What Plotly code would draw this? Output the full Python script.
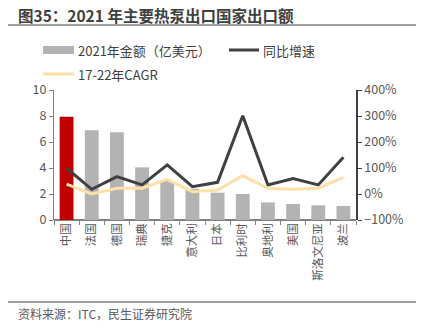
import plotly.graph_objects as go

categories = ["中国", "法国", "德国", "瑞典", "捷克", "意大利", "日本", "比利时", "奥地利", "美国", "斯洛文尼亚", "波兰"]
amount = [7.95, 6.9, 6.75, 4.05, 3.0, 2.4, 2.1, 2.0, 1.35, 1.23, 1.13, 1.08]
yoy = [99, 18, 67, 35, 112, 28, 45, 301, 35, 59, 35, 141]
cagr = [38, 0, 22, 22, 56, 9, 15, 70, 22, 18, 22, 64]

W, H = 426, 333
L, R, T, B = 54, 70, 90, 113
PW, PH = W - L - R, H - T - B

def px(x):
    return (x - L) / PW

def py(y):
    return (H - B - y) / PH

FONT = "Noto Sans CJK SC"
bar_colors = ["#C00000"] + ["#B3B3B3"] * (len(categories) - 1)

fig = go.Figure()
fig.add_trace(go.Bar(x=categories, y=amount, marker_color=bar_colors, marker_line_width=0,
                     name="2021年金额（亿美元）", showlegend=False))
fig.add_trace(go.Scatter(x=categories, y=yoy, yaxis="y2", mode="lines",
                         line=dict(color="#404040", width=3), name="同比增速", showlegend=False))
fig.add_trace(go.Scatter(x=categories, y=cagr, yaxis="y2", mode="lines",
                         line=dict(color="#FFE0A6", width=3), name="17-22年CAGR", showlegend=False))

tickfont = dict(family=FONT, size=11.5, color="#595959")
fig.update_layout(
    width=W, height=H, margin=dict(l=L, r=R, t=T, b=B),
    paper_bgcolor="white", plot_bgcolor="white",
    bargap=0.45,
    xaxis=dict(tickangle=-90, tickfont=tickfont, showline=False, ticks="outside",
               tickson="boundaries", ticklen=4, tickcolor="#808080", showgrid=False),
    yaxis=dict(range=[0, 10], dtick=2, tickfont=dict(family=FONT, size=12.5, color="#595959"),
               showline=True, linecolor="#808080", linewidth=1, ticks="outside", ticklen=4,
               tickcolor="#808080", showgrid=False, zeroline=True, zerolinecolor="#808080"),
    yaxis2=dict(range=[-100, 400], dtick=100, ticksuffix="%", overlaying="y", side="right",
                tickfont=dict(family=FONT, size=12.5, color="#595959"),
                showline=True, linecolor="#404040", linewidth=1.5, ticks="outside", ticklen=4,
                tickcolor="#404040", showgrid=False, zeroline=False),
    showlegend=False,
)

shapes = []
annotations = []
# title
annotations.append(dict(text="<b>图35：2021 年主要热泵出口国家出口额</b>", xref="paper", yref="paper",
                        x=px(16), y=py(15), xanchor="left", yanchor="middle", showarrow=False,
                        font=dict(family=FONT, size=15.5, color="#404040")))
shapes.append(dict(type="line", xref="paper", yref="paper", x0=px(8), x1=px(416), y0=py(25), y1=py(25),
                   line=dict(color="#404040", width=1.2)))
# legend
LF = dict(family=FONT, size=13, color="#404040")
shapes.append(dict(type="rect", xref="paper", yref="paper", x0=px(43), x1=px(74), y0=py(46), y1=py(54),
                   fillcolor="#B3B3B3", line=dict(width=0)))
annotations.append(dict(text="2021年金额（亿美元）", xref="paper", yref="paper", x=px(76), y=py(50),
                        xanchor="left", yanchor="middle", showarrow=False, font=LF))
shapes.append(dict(type="line", xref="paper", yref="paper", x0=px(229), x1=px(259), y0=py(50), y1=py(50),
                   line=dict(color="#404040", width=3)))
annotations.append(dict(text="同比增速", xref="paper", yref="paper", x=px(261), y=py(50),
                        xanchor="left", yanchor="middle", showarrow=False, font=LF))
shapes.append(dict(type="line", xref="paper", yref="paper", x0=px(43), x1=px(74), y0=py(74), y1=py(74),
                   line=dict(color="#FFE0A6", width=3)))
annotations.append(dict(text="17-22年CAGR", xref="paper", yref="paper", x=px(76), y=py(74),
                        xanchor="left", yanchor="middle", showarrow=False, font=LF))
# footer
shapes.append(dict(type="line", xref="paper", yref="paper", x0=px(8), x1=px(416), y0=py(302), y1=py(302),
                   line=dict(color="#404040", width=1)))
annotations.append(dict(text="资料来源：ITC，民生证券研究院", xref="paper", yref="paper", x=px(16), y=py(313),
                        xanchor="left", yanchor="middle", showarrow=False,
                        font=dict(family=FONT, size=12, color="#595959")))

fig.update_layout(shapes=shapes, annotations=annotations)
fig.write_html("out.html")
